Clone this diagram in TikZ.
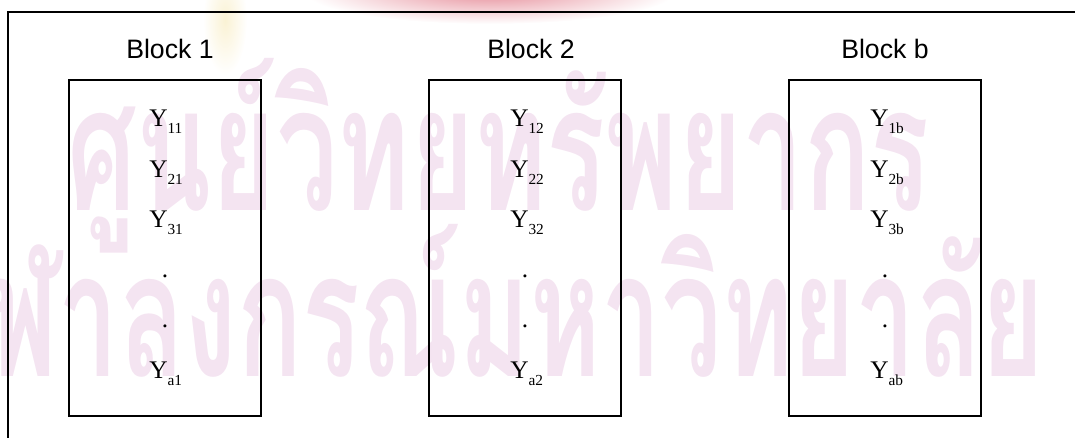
\documentclass[tikz,border=0pt]{standalone}
\usepackage{fontspec}
\setmainfont{Liberation Serif}
\newfontfamily\titlefont{Liberation Sans}
\newfontfamily\thaifont[Script=Thai]{Loma}
\usetikzlibrary{positioning}

\definecolor{wm}{RGB}{244,228,241}
\definecolor{crest}{RGB}{214,70,90}
\definecolor{pillar}{RGB}{250,242,212}

% observation Y with a lowered subscript
\newcommand\obs[1]{{\fontsize{19}{19}\selectfont Y}\raisebox{-5.5pt}{\fontsize{11.5}{11.5}\selectfont #1}}

\tikzset{
  frame/.style={line width=1.5pt, line cap=rect},
  blockbox/.style={draw, line width=1.5pt, minimum width=144pt, minimum height=252pt, inner sep=0pt},
  blocktitle/.style={font=\titlefont\fontsize{20}{20}\selectfont, inner sep=0pt, anchor=base},
  obslab/.style={inner sep=0pt, anchor=base west},
  vdots/.style={inner sep=0pt, anchor=base, font=\fontsize{19}{19}\selectfont},
  wmtext/.style={inner sep=0pt, text=wm, font=\thaifont\bfseries\fontsize{130}{130}\selectfont}
}

\begin{document}
\begin{tikzpicture}[x=0.75pt, y=-0.75pt]
\useasboundingbox (0,0) rectangle (1075,437);

% faint background watermark
\begin{scope}
  \clip (0,0) rectangle (1075,437);
  \shade[inner color=crest!60!white, outer color=white] (490,-8) ellipse [x radius=185, y radius=32];
  \shade[inner color=pillar, outer color=white] (225,20) ellipse [x radius=22, y radius=55];
  \node[wmtext, anchor=base west] (wmA) at (67,210) {\scalebox{0.633}[1]{ศูนย์วิทยทรัพยากร}};
  \node[wmtext, anchor=base east] (wmB) at (1045,376) {\scalebox{0.62}[1]{จุฬาลงกรณ์มหาวิทยาลัย}};
\end{scope}

% open outer frame
\coordinate (fTR) at (1075,12);
\coordinate (fTL) at (8,12);
\coordinate (fBL) at (8,437);
\draw[frame] (fTR) -- (fTL) -- (fBL);

% the three blocks
\node[blockbox] (box1) at (165,248) {};
\node[blockbox] (box2) at (524.5,248) {};
\node[blockbox] (boxb) at (885,248) {};

\node[blocktitle] (t1) at (170,58.5) {Block 1};
\node[blocktitle] (t2) at (531,58.5) {Block 2};
\node[blocktitle] (tb) at (885,58.5) {Block b};

% block 1
\node[obslab] (y11) at (149,126) {\obs{11}};
\node[obslab] (y21) at (149,177) {\obs{21}};
\node[obslab] (y31) at (149,227) {\obs{31}};
\node[vdots] (d11) at (165,277.5) {.};
\node[vdots] (d12) at (165,327.5) {.};
\node[obslab] (ya1) at (149,378) {\obs{a1}};

% block 2
\node[obslab] (y12) at (510,126) {\obs{12}};
\node[obslab] (y22) at (510,177) {\obs{22}};
\node[obslab] (y32) at (510,227) {\obs{32}};
\node[vdots] (d21) at (525,277.5) {.};
\node[vdots] (d22) at (525,327.5) {.};
\node[obslab] (ya2) at (510,378) {\obs{a2}};

% block b
\node[obslab] (y1b) at (870,126) {\obs{1b}};
\node[obslab] (y2b) at (870,177) {\obs{2b}};
\node[obslab] (y3b) at (870,227) {\obs{3b}};
\node[vdots] (db1) at (885,277.5) {.};
\node[vdots] (db2) at (885,327.5) {.};
\node[obslab] (yab) at (870,378) {\obs{ab}};
\end{tikzpicture}
\end{document}
